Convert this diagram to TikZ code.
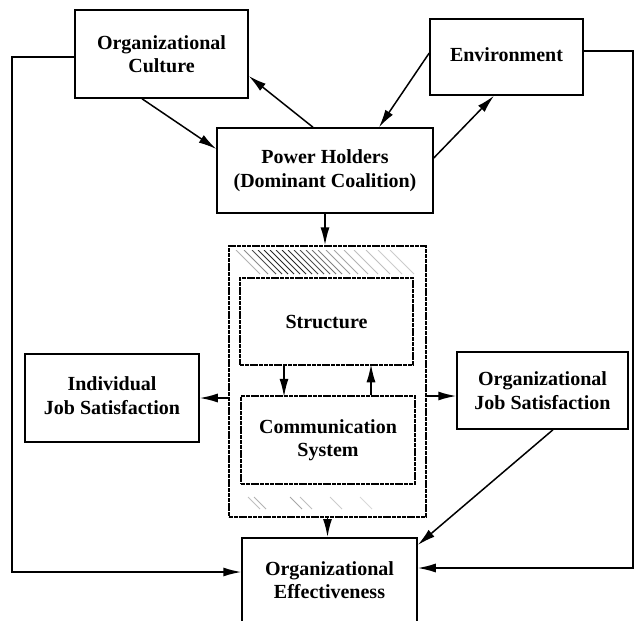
\documentclass[tikz,border=0pt]{standalone}
\usepackage{fontspec}
\setmainfont{Liberation Serif}
\usetikzlibrary{arrows.meta,calc}
\begin{document}
\begin{tikzpicture}[x=1pt,y=-1pt,
  box/.style={draw,line width=1.5pt,align=center,inner sep=0pt,
    font=\bfseries\fontsize{20}{23.5}\selectfont},
  dbox/.style={box,dash pattern=on 4pt off 0.8pt},
  conn/.style={line width=1.5pt},
  arr/.style={conn,-{Latex[length=18pt,width=9pt]}}]
\useasboundingbox (0,0) rectangle (635,621);
\clip (0,0) rectangle (635,621);
% nodes
\node[box,minimum width=173pt,minimum height=88pt] (oc) at (161.5,54) {Organizational\\Culture};
\node[box,minimum width=153pt,minimum height=76pt] (env) at (506.5,57) {\raisebox{5pt}{Environment}};
\node[box,minimum width=216pt,minimum height=85pt] (ph) at (325,170.5) {Power Holders\\(Dominant Coalition)};
\node[dbox,minimum width=197pt,minimum height=271pt] (dash) at (327.5,381.5) {};
\node[dbox,minimum width=173pt,minimum height=87pt] (st) at (326.5,321.5) {Structure};
\node[dbox,minimum width=174pt,minimum height=88pt] (cm) at (328,440) {Communication\\System};
\node[box,minimum width=174pt,minimum height=88pt] (ijs) at (112,398) {\raisebox{7pt}{\begin{tabular}{@{}c@{}}Individual\\Job Satisfaction\end{tabular}}};
\node[box,minimum width=171pt,minimum height=77pt] (ojs) at (542.5,390.5) {Organizational\\Job Satisfaction};
\node[box,minimum width=175pt,minimum height=130pt,anchor=north] (oe) at (329.5,537) {};
\node[font=\bfseries\fontsize{20}{23.5}\selectfont,align=center] (oet) at (329.5,580) {Organizational\\Effectiveness};
% hatching in top band of the outer box
\begin{scope}
\clip (233,250) rectangle (422,276);
\foreach \x/\c in {236/30,244/45,252/70,258/80,264/85,270/85,276/80,282/85,288/80,294/75,300/70,306/65,312/55,318/50,326/40,334/35,344/30,354/25,366/25,378/20,390/20}
  \draw[black!\c,line width=1pt] (\x,250) -- ++(24,24);
\end{scope}
\begin{scope}
\clip (233,495) rectangle (422,514);
\foreach \x/\c in {248/25,254/30,290/35,300/25,330/20,360/15}
  \draw[black!\c,line width=0.9pt] (\x,497) -- ++(12,12);
\end{scope}
% connectors
\draw[arr] ($(oc.west)+(0,3)$) -- (12,57) -- (12,572) -- ($(oe.north west)+(0,35)$);
\draw[arr] ($(env.east)+(0,-6)$) -- (633,51) -- (633,568) -- ($(oe.north east)+(0,31)$);
\draw[arr] ($(oc.south)+(-19.5,0)$) -- ($(ph.west)+(0,-21.5)$);
\draw[arr] ($(ph.north)+(-12,0)$) -- ($(oc.east)+(0,22)$);
\draw[arr] ($(env.west)+(0,-4)$) -- ($(ph.north)+(54,0)$);
\draw[arr] ($(ph.east)+(0,-12.5)$) -- ($(env.south)+(-12.5,0)$);
\draw[arr] (ph.south) -- (ph.south |- dash.north);
\draw[arr] ($(st.south)+(-42.5,0)$) -- ($(st.south)+(-42.5,31)$);
\draw[arr] ($(cm.north)+(43,0)$) -- ($(cm.north)+(43,-31)$);
\draw[arr] (dash.west |- ijs.east) -- (ijs.east);
\draw[arr] ($(dash.east)+(0,14.5)$) -- ($(ojs.west)+(0,5.5)$);
\draw[arr] ($(ojs.south)+(10.5,0)$) -- ($(oe.north east)+(0,8)$);
\draw[arr] (dash.south) -- (dash.south |- oe.north);
\end{tikzpicture}
\end{document}
